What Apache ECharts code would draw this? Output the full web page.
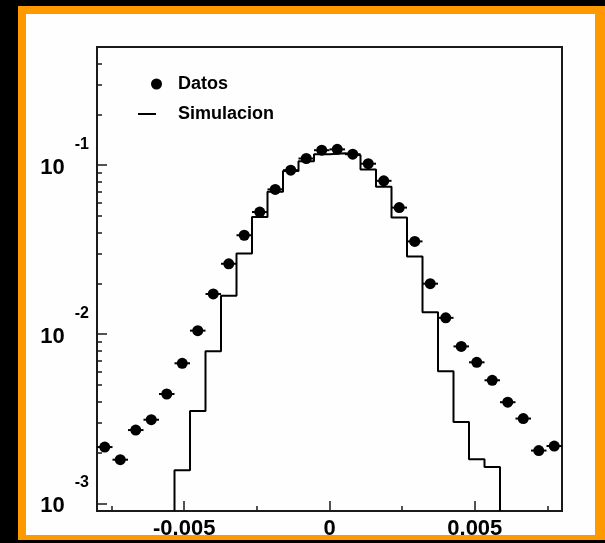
<!DOCTYPE html>
<html><head><meta charset="utf-8">
<script src="https://cdn.jsdelivr.net/npm/echarts@6/dist/echarts.min.js"></script>
<style>html,body{margin:0;padding:0;background:#000}#c{width:605px;height:543px}</style>
</head><body><div id="c"></div>
<script>
// ---- data ----
const xMin = -0.008, xMax = 0.008, nBins = 30;
const yMin = 0.0009, yMax = 0.5;
const datos = [2.15e-3, 1.81e-3, 2.71e-3, 3.12e-3, 4.43e-3, 6.73e-3, 1.05e-2, 1.73e-2, 2.61e-2, 3.85e-2,
  5.28e-2, 7.19e-2, 9.34e-2, 0.1095, 0.1226, 0.1240, 0.1161, 0.102, 8.08e-2, 5.61e-2,
  3.54e-2, 1.99e-2, 1.25e-2, 8.47e-3, 6.82e-3, 5.34e-3, 3.96e-3, 3.17e-3, 2.05e-3, 2.18e-3];
const simFirstBin = 5;
const simulacion = [1.57e-3, 3.51e-3, 7.92e-3, 1.69e-2, 3.0e-2, 4.93e-2, 6.96e-2, 9.22e-2, 0.1056, 0.116,
  0.1177, 0.1146, 9.43e-2, 7.45e-2, 4.91e-2, 2.88e-2, 1.35e-2, 6.03e-3, 3.03e-3, 1.82e-3, 1.64e-3];
const xMajorTicks = [-0.005, 0, 0.005];
const xMinorTicks = [-0.0075, -0.0025, 0.0025, 0.0075];
const yMajorTicks = [0.001, 0.01, 0.1];
const yMinorTicks = [0.002, 0.003, 0.004, 0.005, 0.006, 0.007, 0.008, 0.009,
  0.02, 0.03, 0.04, 0.05, 0.06, 0.07, 0.08, 0.09, 0.2, 0.3, 0.4];
const seriesNames = ['Datos', 'Simulacion'];

// ---- derived ----
const binWidth = (xMax - xMin) / nBins;
const edge = i => xMin + i * binWidth;
const datosPts = datos.map((v, i) => [edge(i) + binWidth / 2, v]);
const simPts = [[edge(simFirstBin), yMin]];
simulacion.forEach((v, k) => simPts.push([edge(simFirstBin + k), v]));
const lastEdge = edge(simFirstBin + simulacion.length);
simPts.push([lastEdge, simulacion[simulacion.length - 1]]);
simPts.push([lastEdge, yMin]);

const FONT = 'Liberation Sans, Arial, Helvetica, sans-serif';
const AX = '#1a1a1a';
// legend icons: both share a 24x11 box (degenerate anchor points fix the box)
const ICON_DOT = 'path://M0,0 L0,0 Z M0,11 L0,11 Z M13,5.5 A5.5,5.5 0 1,0 24,5.5 A5.5,5.5 0 1,0 13,5.5 Z';
const ICON_LINE = 'path://M0,0 L0,0 Z M0,4.5 L18,4.5 L18,6.5 L0,6.5 Z M24,11 L24,11 Z';

const chart = echarts.init(document.getElementById('c'), null, {renderer: 'canvas'});
chart.setOption({
  backgroundColor: '#000',
  animation: false,
  graphic: {elements: [
    {type: 'rect', z: -10, shape: {x: 18, y: 6, width: 590, height: 534}, style: {fill: '#ff9900'}},
    {type: 'rect', z: -9, shape: {x: 26, y: 14, width: 569, height: 521}, style: {fill: '#fefefe'}}
  ]},
  grid: {left: 97, top: 47, width: 465, height: 464, show: true, borderColor: AX, borderWidth: 2, backgroundColor: 'transparent'},
  legend: {
    orient: 'vertical', left: 138, top: 74, padding: 0, itemWidth: 24, itemHeight: 11, itemGap: 10,
    data: [{name: seriesNames[0], icon: ICON_DOT}, {name: seriesNames[1], icon: ICON_LINE}],
    textStyle: {fontFamily: FONT, fontWeight: 'bold', fontSize: 18, color: '#000', lineHeight: 20, padding: [0, 0, 0, 11]}
  },
  xAxis: [{
    type: 'value', min: xMin, max: xMax, position: 'bottom',
    axisLine: {show: true, onZero: false, lineStyle: {color: AX, width: 2}},
    axisTick: {show: true, inside: true, length: 10, customValues: xMajorTicks, lineStyle: {color: AX, width: 1.5}},
    axisLabel: {show: true, customValues: xMajorTicks, margin: 7, color: '#000', fontFamily: FONT, fontWeight: 'bold', fontSize: 22,
      formatter: v => String(v)},
    splitLine: {show: false}
  }, {
    type: 'value', min: xMin, max: xMax, position: 'bottom',
    axisLine: {show: false, onZero: false},
    axisTick: {show: true, inside: true, length: 5, customValues: xMinorTicks, lineStyle: {color: AX, width: 1.5}},
    axisLabel: {show: false}, splitLine: {show: false}
  }],
  yAxis: [{
    type: 'log', logBase: 10, min: yMin, max: yMax, position: 'left',
    axisLine: {show: true, onZero: false, lineStyle: {color: AX, width: 2}},
    axisTick: {show: true, inside: true, length: 10, customValues: yMajorTicks, lineStyle: {color: AX, width: 1.5}},
    axisLabel: {show: true, customValues: yMajorTicks, margin: 8, color: '#000',
      formatter: v => '{b|10}{s|' + Math.round(Math.log10(v)) + '}',
      rich: {
        b: {fontFamily: FONT, fontWeight: 'bold', fontSize: 22, lineHeight: 22, color: '#000', padding: [5, 0, 0, 0]},
        s: {fontFamily: FONT, fontWeight: 'bold', fontSize: 16, lineHeight: 16, color: '#000', padding: [0, 0, 42, 10]}
      }},
    splitLine: {show: false}
  }, {
    type: 'log', logBase: 10, min: yMin, max: yMax, position: 'left',
    axisLine: {show: false, onZero: false},
    axisTick: {show: true, inside: true, length: 5, customValues: yMinorTicks, lineStyle: {color: AX, width: 1.5}},
    axisLabel: {show: false}, splitLine: {show: false}
  }],
  series: [{
    name: seriesNames[1], type: 'line', step: 'end', data: simPts, showSymbol: false, symbol: 'none',
    lineStyle: {color: '#000', width: 2}, itemStyle: {color: '#000'}, z: 3
  }, {
    type: 'custom', name: 'errx', data: datosPts, z: 4, silent: true,
    renderItem: (params, api) => {
      const l = api.coord([api.value(0) - binWidth / 2, api.value(1)]);
      const r = api.coord([api.value(0) + binWidth / 2, api.value(1)]);
      return {type: 'line', shape: {x1: l[0], y1: l[1], x2: r[0], y2: r[1]}, style: {stroke: '#000', lineWidth: 2}};
    }
  }, {
    name: seriesNames[0], type: 'scatter', data: datosPts, symbol: 'circle', symbolSize: 11,
    itemStyle: {color: '#000', opacity: 1}, z: 5
  }]
});
</script></body></html>
